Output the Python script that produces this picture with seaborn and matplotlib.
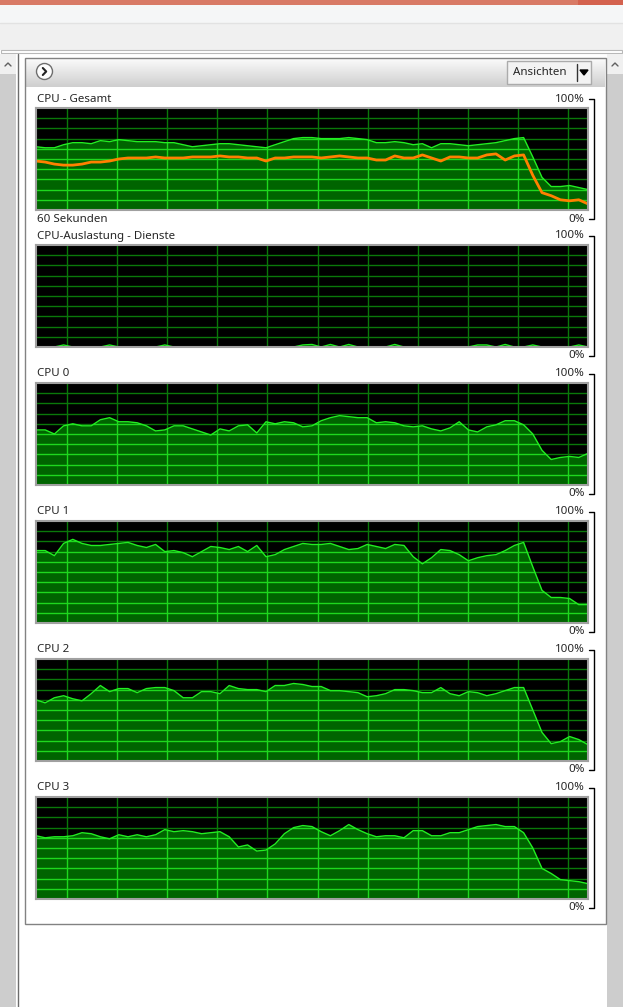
import matplotlib
matplotlib.use("Agg")
import numpy as np
import matplotlib.pyplot as plt
import matplotlib.patches as mpatches
from matplotlib.colors import LinearSegmentedColormap
import seaborn as sns

# ---------------------------------------------------------------
# Daten: CPU-Auslastung in %, ein Wert pro Sekunde (60 Sekunden)
# ---------------------------------------------------------------
sekunden = list(range(61))

gesamt = [62, 61, 61, 64, 66, 66, 65, 68, 67, 69, 68, 67, 67, 67, 66, 66,
          64, 62, 63, 64, 65, 65, 64, 63, 62, 61, 64, 67, 70, 71, 71, 70,
          70, 70, 71, 70, 69, 66, 66, 67, 66, 64, 65, 61, 65, 65, 64, 63,
          64, 65, 66, 68, 70, 71, 52, 32, 23, 23, 24, 22, 20]
gesamt_orange = [48, 47, 45, 44, 44, 45, 47, 47, 48, 50, 51, 51, 51, 52, 51, 51,
                 51, 52, 52, 52, 53, 52, 52, 51, 51, 48, 51, 51, 52, 52, 52, 51,
                 52, 53, 52, 51, 51, 49, 49, 53, 51, 51, 54, 51, 48, 52, 52, 51,
                 51, 54, 55, 49, 53, 54, 34, 17, 14, 10, 9, 10, 6]
dienste = [0, 0, 0, 2, 0, 0, 0, 0, 2, 0, 0, 0, 0, 0, 2, 0,
           0, 0, 0, 0, 0, 0, 0, 0, 0, 0, 0, 0, 0, 2, 2.5, 0,
           2.5, 0, 2.5, 0, 0, 0, 0, 2.5, 0, 0, 0, 0, 0, 0, 0, 0,
           2, 2, 0, 2.5, 0, 0, 2, 0, 0, 0, 0, 2, 0]
cpu0 = [54, 54, 50, 58, 60, 58, 58, 64, 66, 62, 62, 61, 58, 53, 54, 58,
        58, 55, 52, 49, 55, 53, 58, 59, 51, 62, 60, 62, 61, 57, 58, 63,
        66, 68, 67, 66, 66, 61, 62, 61, 58, 57, 58, 55, 53, 56, 62, 54,
        52, 57, 59, 63, 63, 59, 50, 34, 25, 27, 28, 27, 31]
cpu1 = [71, 71, 66, 78, 82, 78, 76, 76, 77, 78, 79, 76, 74, 77, 70, 71,
        69, 65, 70, 75, 74, 72, 75, 70, 76, 65, 67, 72, 75, 78, 77, 77,
        78, 75, 72, 73, 77, 75, 73, 77, 76, 65, 58, 64, 72, 71, 67, 61,
        64, 66, 67, 71, 76, 79, 55, 32, 25, 25, 24, 18, 18]
cpu2 = [60, 57, 62, 64, 61, 59, 66, 74, 68, 71, 71, 67, 71, 72, 72, 69,
        62, 62, 68, 68, 66, 74, 71, 70, 70, 68, 74, 74, 76, 75, 73, 73,
        69, 69, 68, 67, 63, 64, 66, 70, 70, 69, 67, 67, 72, 66, 64, 68,
        67, 64, 66, 69, 72, 72, 50, 28, 17, 19, 24, 21, 16]
cpu3 = [62, 60, 61, 61, 62, 65, 64, 61, 59, 63, 61, 63, 61, 63, 68, 66,
        67, 66, 64, 65, 66, 61, 51, 53, 47, 48, 54, 64, 70, 72, 71, 66,
        62, 67, 73, 68, 64, 61, 62, 62, 60, 67, 67, 62, 62, 65, 65, 68,
        71, 72, 73, 71, 71, 65, 50, 30, 25, 19, 18, 17, 15]

titel = ["CPU - Gesamt", "CPU-Auslastung - Dienste", "CPU 0", "CPU 1", "CPU 2", "CPU 3"]
serien = [gesamt, dienste, cpu0, cpu1, cpu2, cpu3]

# ---------------------------------------------------------------
# Stil / Layout (Pixel)
# ---------------------------------------------------------------
W, H = 623, 1007
PANEL_TOP = [108, 245, 383, 521, 659, 797]
PANEL_X, PANEL_W, PANEL_H = 36, 552, 102
VGRID = [3.4 + 5.44 * k for k in range(11)]   # Gitter scrollt mit
HGRID = list(range(10, 100, 10))

SCHWARZ_GITTER = "#0A780A"
HELL_GITTER = "#1ED81E"
FUELLUNG = "#006400"
LINIE = "#22EE22"
ORANGE = "#FF8000"

sns.set_theme(style="white")
plt.rcParams["font.family"] = ["Noto Sans", "DejaVu Sans"]
FS = 8.3

fig = plt.figure(figsize=(W / 100, H / 100), dpi=100)
fig.patch.set_facecolor("white")

# Hintergrund-Achse in Pixelkoordinaten (Fensterrahmen)
bg = fig.add_axes([0, 0, 1, 1])
bg.axis("off")

def rect(x, y, w, h, fc, ec="none", lw=0.0, z=1):
    bg.add_patch(mpatches.Rectangle((x, y), w, h, fc=fc, ec=ec, lw=lw, zorder=z))

rect(0, 0, W, 5, "#D87A66")
rect(578, 0, W - 578, 5, "#D4624F")
rect(0, 5, W, 18, "#F5F6F7")
rect(0, 23, W, 27, "#F0F0F0")
bg.plot([0, W], [23, 23], color="#E2E2E2", lw=1)
rect(0.5, 49.5, 621, 3.5, "white", ec="#B8B8B8", lw=0.8)

# Scrollleisten links / rechts
for x0 in (0, 607):
    rect(x0, 54, 16, 20, "#F0F0F0")
    rect(x0, 74, 16, H - 74, "#CDCDCD")
    bg.plot([x0 + 5, x0 + 8, x0 + 11], [66, 63, 66], color="#606060", lw=1, zorder=3)
bg.plot([17.5, 17.5], [54, H], color="#6D6D6D", lw=1, zorder=3)

# Kopfzeile mit Verlauf
verlauf = LinearSegmentedColormap.from_list("kopf", ["#FBFBFB", "#CFCFCF"])
bg.imshow(np.linspace(0, 1, 30).reshape(-1, 1), cmap=verlauf, aspect="auto",
          extent=(25, 605, 87, 58), zorder=2)
rect(24.5, 57.5, 581, 866, "none", ec="#828282", lw=1, z=4)

bg.add_patch(mpatches.Circle((44.5, 71.5), 8, fc="#FDFDFD", ec="#6E6E6E", lw=1, zorder=5))
bg.plot([42.8, 46.2, 42.8], [68, 71.5, 75], color="#222222", lw=1.5, zorder=6)

rect(507, 61, 84, 23, "#F3F3F3", ec="#ABABAB", lw=1, z=5)
bg.text(540, 72.5, "Ansichten", ha="center", va="center", fontsize=FS, zorder=6)
bg.plot([577, 577], [64, 81], color="#333333", lw=1, zorder=6)
bg.add_patch(mpatches.Polygon([[580, 70], [588, 70], [584, 75]], color="black", zorder=6))

# ---------------------------------------------------------------
# Diagramme
# ---------------------------------------------------------------
for i, (name, werte, top) in enumerate(zip(titel, serien, PANEL_TOP)):
    ax = fig.add_axes([PANEL_X / W, 1 - (top + PANEL_H) / H, PANEL_W / W, PANEL_H / H])
    ax.set_facecolor("black")

    ax.vlines(VGRID, 0, 100, color=SCHWARZ_GITTER, lw=1, zorder=1)
    ax.hlines(HGRID, 0, 60, color=SCHWARZ_GITTER, lw=1, zorder=1)

    poly = ax.fill_between(sekunden, werte, 0, color=FUELLUNG, lw=0, zorder=2)
    flaeche = poly.get_paths()[0]
    for coll in (ax.vlines(VGRID, 0, 100, color=HELL_GITTER, lw=1, zorder=3),
                 ax.hlines(HGRID, 0, 60, color=HELL_GITTER, lw=1, zorder=3)):
        coll.set_clip_path(flaeche, ax.transData)

    sns.lineplot(x=sekunden, y=werte, ax=ax, color=LINIE, lw=1, zorder=4)
    if i == 0:
        sns.lineplot(x=sekunden, y=gesamt_orange, ax=ax, color=ORANGE, lw=2, zorder=5)

    ax.set_xlim(0, 60)
    ax.set_ylim(0, 100)
    ax.set_xticks([])
    ax.set_yticks([])
    ax.set_xlabel("")
    ax.set_ylabel("")
    for sp in ax.spines.values():
        sp.set_visible(True)
        sp.set_color("#A0A0A0")
        sp.set_linewidth(1.5)
        sp.set_zorder(10)

    # Beschriftungen
    bg.text(37, top - 9, name, ha="left", va="center", fontsize=FS, zorder=6)
    bg.text(585, top - 9, "100%", ha="right", va="center", fontsize=FS, zorder=6)
    bg.text(585, top + PANEL_H + 9, "0%", ha="right", va="center", fontsize=FS, zorder=6)
    if i == 0:
        bg.text(37, top + PANEL_H + 9, "60 Sekunden", ha="left", va="center",
                fontsize=FS, zorder=6)
    bg.plot([589, 594, 594, 589], [top - 9, top - 9, top + PANEL_H + 9, top + PANEL_H + 9],
            color="black", lw=1, zorder=6)

bg.set_xlim(0, W)
bg.set_ylim(H, 0)

fig.savefig("out.png", dpi=100)
